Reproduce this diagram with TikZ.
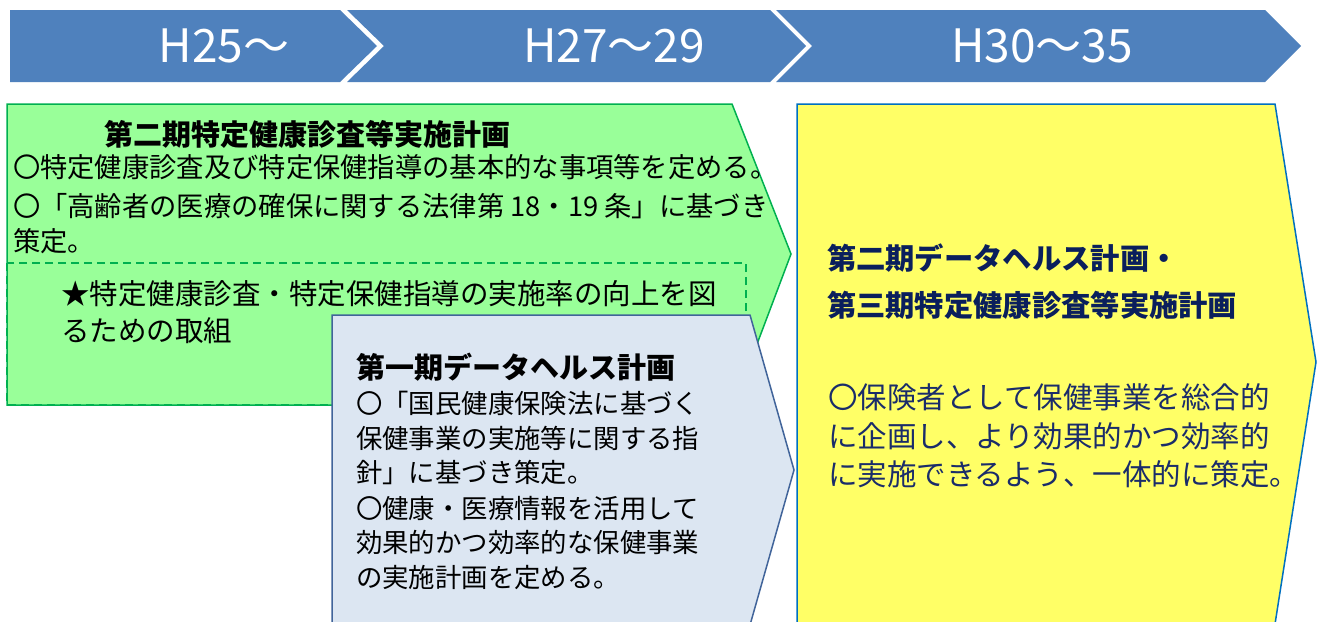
\documentclass[tikz,border=0pt]{standalone}
\usepackage{fontspec}
\setmainfont{Noto Sans CJK JP}
\newfontfamily\bannerfont{Noto Sans CJK JP}
\definecolor{bannerblue}{HTML}{4F81BD}
\definecolor{greenfill}{HTML}{99FF99}
\definecolor{greenline}{HTML}{00B050}
\definecolor{bluefill}{HTML}{DCE6F2}
\definecolor{blueline}{HTML}{41649A}
\definecolor{yellowfill}{HTML}{FFFF66}
\definecolor{yellowline}{HTML}{0070C0}
\definecolor{navy}{HTML}{0A1F5C}
\definecolor{navybody}{HTML}{1A2C6A}
\begin{document}
\begin{tikzpicture}[x=1pt,y=-1pt,
  txt/.style={inner sep=0pt, outer sep=0pt, anchor=base west, text=black},
  bannertxt/.style={inner sep=0pt, anchor=base, text=white, font=\bannerfont\fontsize{46}{50}\selectfont},
  gtitle/.style={txt, font=\bfseries\fontsize{29}{33}\selectfont},
  gbody/.style={txt, font=\fontsize{27.3}{31}\selectfont},
  gstar/.style={txt, font=\fontsize{28.5}{32}\selectfont},
  btitle/.style={txt, font=\bfseries\fontsize{29}{33}\selectfont},
  bbody/.style={txt, font=\fontsize{26.4}{30}\selectfont},
  ytitle/.style={txt, text=navy, font=\bfseries\fontsize{29.3}{33}\selectfont},
  ybody/.style={txt, text=navybody, font=\fontsize{29.5}{33}\selectfont}]
\useasboundingbox (0,0) rectangle (1321,621);
\fill[white] (0,0) rectangle (1321,621);
% banner
\fill[bannerblue] (10,10) -- (340,10) -- (377,46) -- (340,82) -- (10,82) -- cycle;
\fill[bannerblue] (347,10) -- (770,10) -- (806,46) -- (770,82) -- (347,82) -- (384,46) -- cycle;
\fill[bannerblue] (776,10) -- (1265,10) -- (1301,46) -- (1265,82) -- (776,82) -- (812,46) -- cycle;
\node[bannertxt] (h1) at (224,62) {H25～};
\node[bannertxt] (h2) at (614,62) {H27～29};
\node[bannertxt] (h3) at (1042,62) {H30～35};
% green box
\path[fill=greenfill, draw=greenline, line width=1.5pt, line join=miter] (7,104) -- (732,104) -- (791,254) -- (734,405) -- (7,405) -- cycle;
\draw[greenline, dash pattern=on 8pt off 5pt, line width=1.4pt] (7,263) rectangle (746,405);
\node[gtitle] (gt) at (104,145) {第二期特定健康診査等実施計画};
\node[gbody] (g1) at (13,177) {〇特定健康診査及び特定保健指導の基本的な事項等を定める。};
\node[gbody] (g2) at (13,216) {〇「高齢者の医療の確保に関する法律第 18・19 条」に基づき};
\node[gbody] (g3) at (13,251) {策定。};
\node[gstar] (s1) at (61,304) {★特定健康診査・特定保健指導の実施率の向上を図};
\node[gstar] (s2) at (61,341) {るための取組};
% blue box
\path[fill=bluefill, draw=blueline, line width=1.5pt] (332,315) -- (750,315) -- (794,470) -- (750,625) -- (332,625) -- cycle;
\node[btitle] (bt) at (356,378) {第一期データヘルス計画};
\node[bbody] (b1) at (356,413) {〇「国民健康保険法に基づく};
\node[bbody] (b2) at (356,448) {保健事業の実施等に関する指};
\node[bbody] (b3) at (356,482) {針」に基づき策定。};
\node[bbody] (b4) at (356,518) {〇健康・医療情報を活用して};
\node[bbody] (b5) at (356,552) {効果的かつ効率的な保健事業};
\node[bbody] (b6) at (356,587) {の実施計画を定める。};
% yellow box
\path[fill=yellowfill, draw=yellowline, line width=1.5pt] (797,104) -- (1275,104) -- (1316,362) -- (1275,624) -- (797,624) -- cycle;
\node[ytitle] (yt1) at (827,269) {第二期データヘルス計画・};
\node[ytitle] (yt2) at (827,316) {第三期特定健康診査等実施計画};
\node[ybody] (y1) at (828,408) {〇保険者として保健事業を総合的};
\node[ybody] (y2) at (828,447) {に企画し、より効果的かつ効率的};
\node[ybody] (y3) at (828,485) {に実施できるよう、一体的に策定。};
\end{tikzpicture}
\end{document}
